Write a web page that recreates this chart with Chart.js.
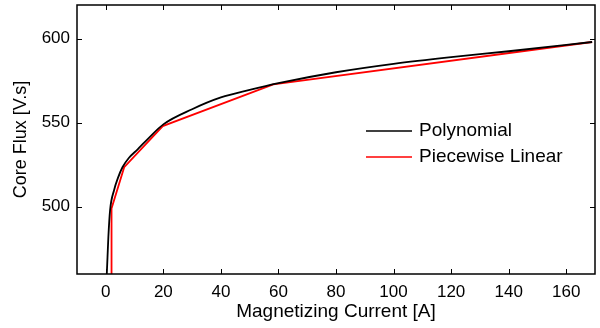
<!DOCTYPE html>
<html>
<head>
<meta charset="utf-8">
<script src="https://cdn.jsdelivr.net/npm/chart.js@4"></script>
<style>
  html, body { margin: 0; padding: 0; background: #fff; }
  #wrap { width: 600px; height: 328px; }
</style>
</head>
<body>
<div id="wrap"><canvas id="chart" width="600" height="328"></canvas></div>
<script>
// values
const polyX = [0.35, 0.6, 0.9, 1.5, 2.9, 4.2, 5.8, 8, 11, 15, 20, 30, 40, 50, 60, 80, 100, 120, 140, 169];
const polyY = [460, 470, 482, 498, 510, 517, 523.5, 529, 534, 541, 549, 558, 565, 569.5, 573.5, 580, 585, 589, 592.5, 598];

const pwlX = [2, 2, 6.4, 19.8, 58.2, 169];
const pwlY = [460, 499, 523.5, 548, 572.8, 598];

const xTicks = [0, 20, 40, 60, 80, 100, 120, 140, 160];
const yTicks = [500, 550, 600];

const toPoints = (xs, ys) => xs.map((x, i) => ({ x, y: ys[i] }));

const FONT = 'Liberation Sans, Arial, sans-serif';

// MATLAB style box with inward ticks on all four sides
const boxPlugin = {
  id: 'box',
  afterDatasetsDraw(chart) {
    const { ctx, chartArea: a, scales: { x, y } } = chart;
    const len = 5;
    ctx.save();
    ctx.strokeStyle = '#000';
    ctx.lineWidth = 1;
    ctx.beginPath();
    xTicks.forEach(v => {
      const px = Math.round(x.getPixelForValue(v)) + 0.5;
      ctx.moveTo(px, a.bottom); ctx.lineTo(px, a.bottom - len);
      ctx.moveTo(px, a.top); ctx.lineTo(px, a.top + len);
    });
    yTicks.forEach(v => {
      const py = Math.round(y.getPixelForValue(v)) + 0.5;
      ctx.moveTo(a.left, py); ctx.lineTo(a.left + len, py);
      ctx.moveTo(a.right, py); ctx.lineTo(a.right - len, py);
    });
    ctx.stroke();
    ctx.lineWidth = 1.5;
    ctx.strokeRect(a.left, a.top, a.right - a.left, a.bottom - a.top);

    // legend inside the plot
    const lx = 366, ly = 131, gap = 26;
    ctx.font = '19px ' + FONT;
    ctx.textBaseline = 'middle';
    chart.data.datasets.forEach((ds, i) => {
      const yy = ly + i * gap;
      ctx.strokeStyle = ds.borderColor;
      ctx.lineWidth = 1.5;
      ctx.beginPath();
      ctx.moveTo(lx, yy); ctx.lineTo(lx + 46, yy);
      ctx.stroke();
      ctx.fillStyle = '#000';
      ctx.fillText(ds.label, lx + 53, yy);
    });
    ctx.restore();
  }
};

new Chart(document.getElementById('chart'), {
  type: 'line',
  data: {
    datasets: [
      {
        label: 'Polynomial',
        data: toPoints(polyX, polyY),
        borderColor: '#000000',
        borderWidth: 1.8,
        pointRadius: 0,
        cubicInterpolationMode: 'monotone'
      },
      {
        label: 'Piecewise Linear',
        data: toPoints(pwlX, pwlY),
        borderColor: '#ff0000',
        borderWidth: 1.8,
        pointRadius: 0,
        tension: 0
      }
    ]
  },
  options: {
    responsive: false,
    animation: false,
    layout: { padding: { top: 5, right: 5, left: 0, bottom: 0 } },
    plugins: { legend: { display: false }, tooltip: { enabled: false } },
    scales: {
      x: {
        type: 'linear',
        min: -10,
        max: 170,
        afterBuildTicks: s => { s.ticks = xTicks.map(v => ({ value: v })); },
        afterFit: s => { s.height = 54; s.paddingLeft = 0; s.paddingRight = 0; },
        grid: { display: false, drawTicks: false },
        border: { display: false },
        ticks: { color: '#000', font: { family: FONT, size: 17 }, padding: 8, maxRotation: 0 },
        title: { display: true, text: 'Magnetizing Current [A]', color: '#000',
                 font: { family: FONT, size: 19 }, padding: { top: 0, bottom: 5 } }
      },
      y: {
        min: 460,
        max: 620,
        afterBuildTicks: s => { s.ticks = yTicks.map(v => ({ value: v })); },
        afterFit: s => { s.width = 77; s.paddingTop = 0; s.paddingBottom = 0; },
        grid: { display: false, drawTicks: false },
        border: { display: false },
        ticks: { color: '#000', font: { family: FONT, size: 17 }, padding: 7 },
        title: { display: true, text: 'Core Flux [V.s]', color: '#000',
                 font: { family: FONT, size: 18 }, padding: { top: 10, bottom: 0 } }
      }
    }
  },
  plugins: [boxPlugin]
});
</script>
</body>
</html>
